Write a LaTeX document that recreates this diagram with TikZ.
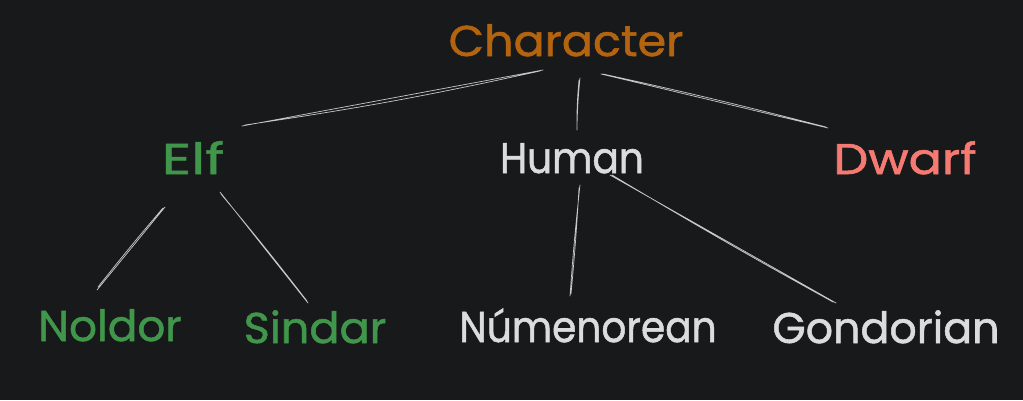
\documentclass[tikz,border=0pt]{standalone}
\usepackage{fontspec}
\setmainfont{Poppins}
\newfontfamily\sketchfont{Poppins}[FakeBold=1.3,FakeStretch=1.07]
\usepackage{tikz}
\usetikzlibrary{calc}
\definecolor{bgdark}{HTML}{18191B}
\definecolor{rootbrown}{HTML}{B4640F}
\definecolor{elfgreen}{HTML}{40964A}
\definecolor{dwarfred}{HTML}{F77A72}
\definecolor{mangray}{HTML}{DCDCDC}
\definecolor{linegray}{HTML}{C8C8C8}
\newcommand{\squeezeword}[2]{\scalebox{#1}[1]{#2}}

\begin{document}
\begin{tikzpicture}[x=1pt,y=-1pt,
    lbl/.style={anchor=base,inner sep=0pt,font=\sketchfont\fontsize{43}{50}\selectfont},
    edge/.style={draw=linegray,line width=0.7pt,line cap=round}]
  \fill[bgdark] (0,0) rectangle (1023,400);
  \useasboundingbox (0,0) rectangle (1023,400);

  \node (C) at (566,56) [lbl,text=rootbrown] {Character};
  \node (E) at (193,174) [lbl,text=elfgreen] {\squeezeword{1.25}{Elf}};
  \node (H) at (572,173) [lbl,text=mangray] {\squeezeword{0.85}{Human}};
  \node (D) at (905,174) [lbl,text=dwarfred] {\squeezeword{1.07}{Dwarf}};
  \node (N) at (110,341) [lbl,text=elfgreen] {\squeezeword{0.95}{Noldor}};
  \node (S) at (315,343) [lbl,text=elfgreen] {\squeezeword{0.97}{Sindar}};
  \node (Nu) at (588,342) [lbl,text=mangray] {\squeezeword{0.85}{Númenorean}};
  \node (Go) at (886,343) [lbl,text=mangray] {\squeezeword{0.93}{Gondorian}};

  % line ends
  \coordinate (CE1) at (543,70);  \coordinate (CE2) at (242,126);
  \coordinate (CH1) at (579,80);  \coordinate (CH2) at (577,130);
  \coordinate (CD1) at (601,74);  \coordinate (CD2) at (828,128);
  \coordinate (EN1) at (165,207); \coordinate (EN2) at (97,290);
  \coordinate (ES1) at (220,192); \coordinate (ES2) at (308,303);
  \coordinate (HN1) at (580,185); \coordinate (HN2) at (570,296);
  \coordinate (HG1) at (610,175); \coordinate (HG2) at (836,303);

  \draw[edge] (CE1) -- (CE2)
     ([shift={(-3,1)}]CE1) to[bend left=2] ([shift={(3,-1)}]CE2);
  \draw[edge] (CH1) to[bend right=3] (CH2)
     ([shift={(1,-2)}]CH1) to[bend right=2] ([shift={(0,-4)}]CH2);
  \draw[edge] (CD1) -- (CD2)
     ([shift={(2,0)}]CD1) to[bend left=1] ([shift={(-2,-1)}]CD2);
  \draw[edge] (EN1) -- (EN2)
     ([shift={(-2,1)}]EN1) to[bend right=1] ([shift={(1,-3)}]EN2);
  \draw[edge] (ES1) -- (ES2)
     ([shift={(1,2)}]ES1) to[bend left=1] ([shift={(-1,-2)}]ES2);
  \draw[edge] (HN1) to[bend right=1] (HN2)
     ([shift={(-1,3)}]HN1) to[bend left=1] ([shift={(1,-2)}]HN2);
  \draw[edge] (HG1) -- (HG2)
     ([shift={(2,0)}]HG1) to[bend right=1] ([shift={(-3,-1)}]HG2);
\end{tikzpicture}
\end{document}
